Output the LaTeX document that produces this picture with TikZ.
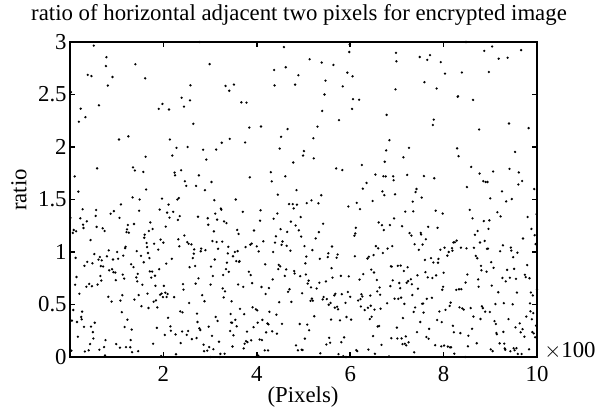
\documentclass[tikz,border=0pt]{standalone}
\usepackage{fontspec}
\setmainfont{Liberation Serif}
\begin{document}
\begin{tikzpicture}[x=0.5pt,y=-0.5pt,
  axisline/.style={line width=1pt,black},
  tickmark/.style={line width=0.8pt,black},
  ticklabel/.style={font=\fontsize{11.4}{13}\selectfont,inner sep=0pt},
  dot/.style={fill=black}]
\useasboundingbox (0,0) rectangle (599,412);
% title and labels
\node[ticklabel] (title) at (299,15) {ratio of horizontal adjacent two pixels for encrypted image};
\node[ticklabel,rotate=90] (ylab) at (19,190) {ratio};
\node[ticklabel] (xlab) at (303,397) {(Pixels)};
\node[ticklabel,anchor=west] (scale) at (544,351) {$\times$100};
% data
\pgfmathsetseed{4711}
\foreach \i in {1,...,1000}{
  \pgfmathrandominteger{\a}{0}{255}
  \pgfmathrandominteger{\b}{1}{255}
  \pgfmathtruncatemacro\keep{\a<=3*\b}
  \ifnum\keep=1
    \pgfmathsetmacro\rr{\a/\b}
    \pgfmathsetmacro\px{70+0.467*\i}
    \pgfmathsetmacro\py{357-105*\rr}
    \fill[dot] (\px,\py) circle (0.65pt);
  \fi
}
% frame
\draw[axisline] (70,42) rectangle (537,357);
% y ticks
\foreach \v/\t in {0/0,0.5/0.5,1/1,1.5/1.5,2/2,2.5/2.5,3/3}{
  \pgfmathsetmacro\yy{357-105*\v}
  \draw[tickmark] (70,\yy) -- (75,\yy);
  \draw[tickmark] (537,\yy) -- (532,\yy);
  \node[ticklabel,anchor=east] at (67,\yy) {\t};
}
% x ticks
\foreach \v in {2,4,6,8,10}{
  \pgfmathsetmacro\xx{70+46.7*\v}
  \draw[tickmark] (\xx,357) -- (\xx,352);
  \draw[tickmark] (\xx,42) -- (\xx,47);
  \node[ticklabel] at (\xx,374) {\v};
}
\end{tikzpicture}
\end{document}
